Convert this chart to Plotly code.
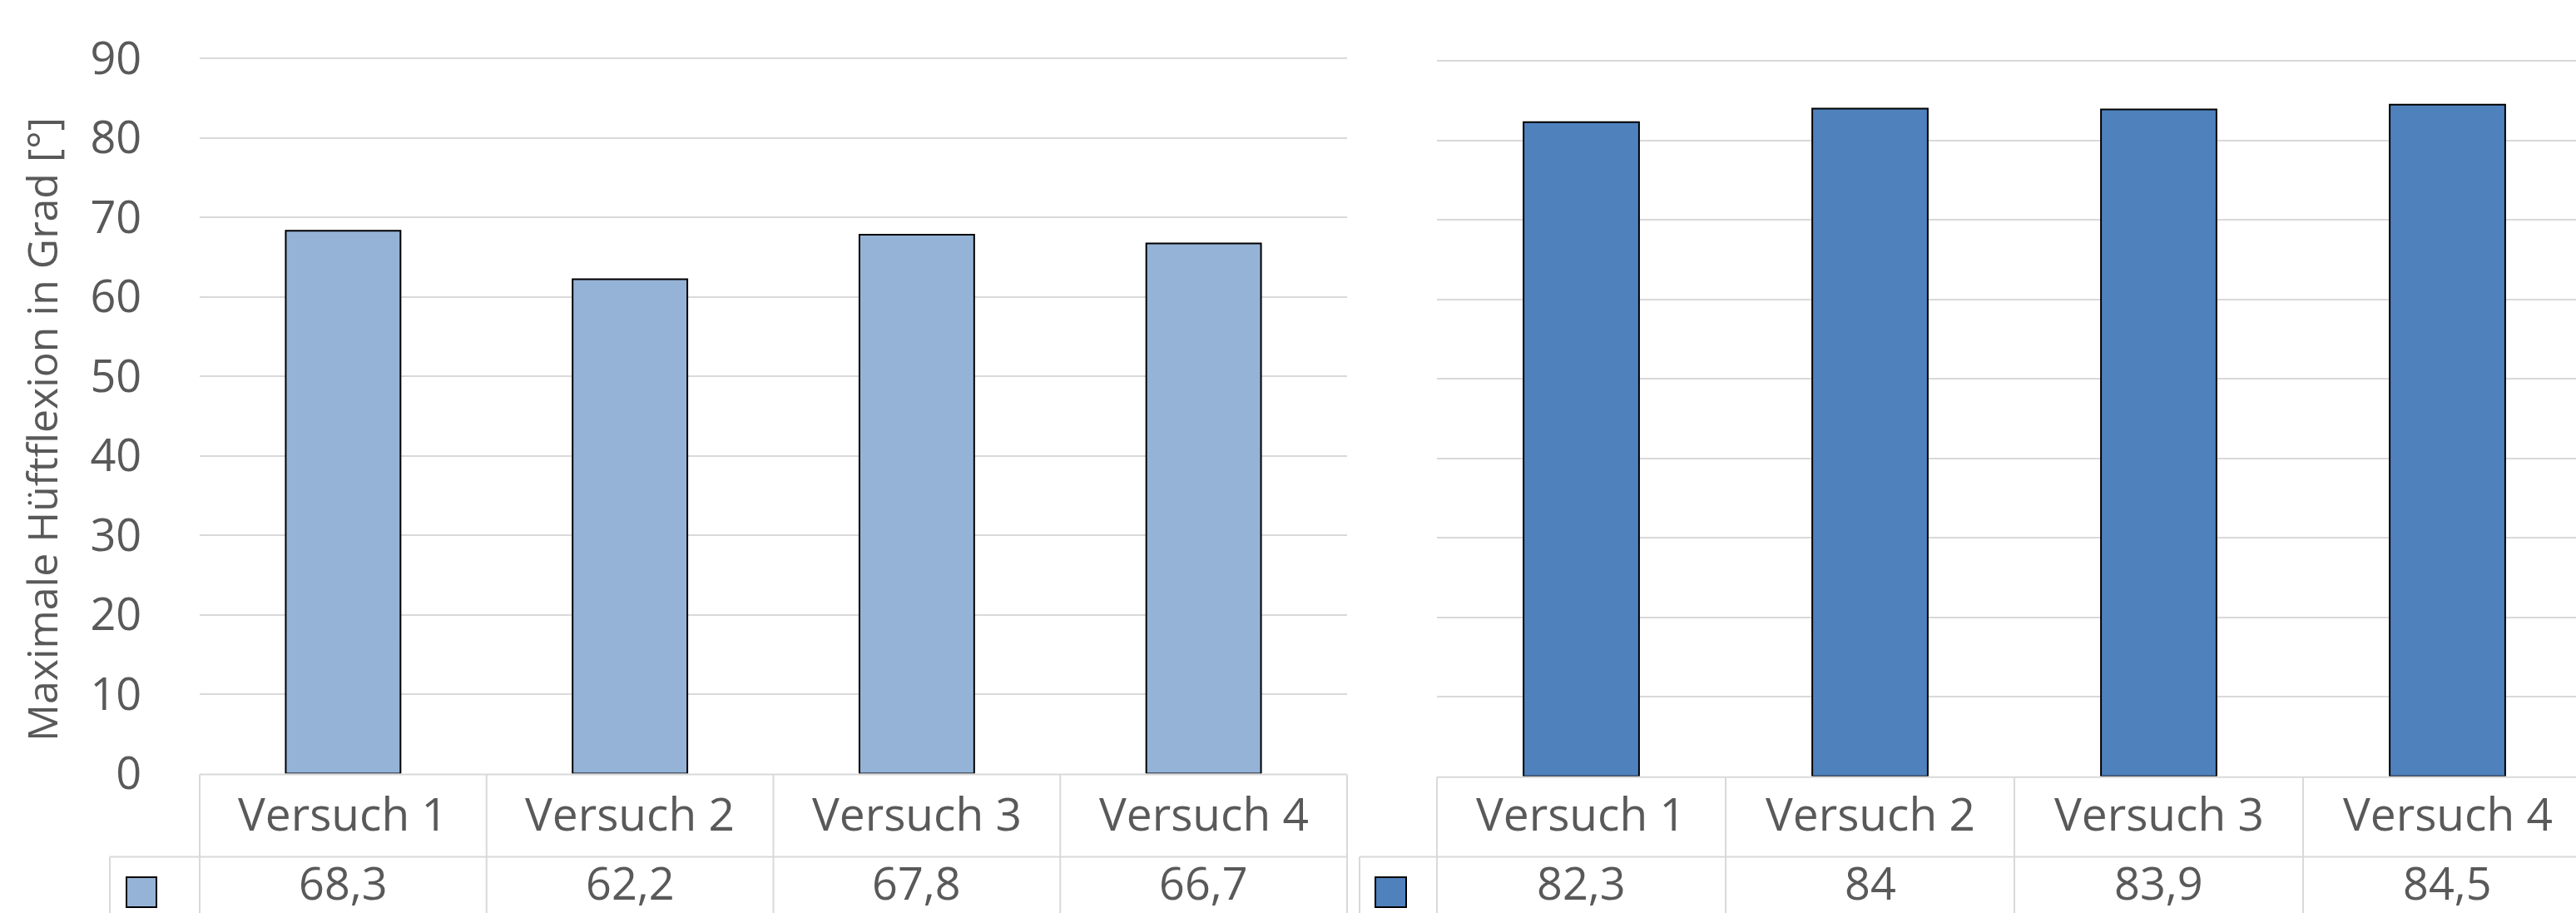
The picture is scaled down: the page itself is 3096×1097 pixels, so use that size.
import plotly.graph_objects as go

# --- data -------------------------------------------------------------
categories = ["Versuch 1", "Versuch 2", "Versuch 3", "Versuch 4"]
werte_links = [68.3, 62.2, 67.8, 66.7]
werte_rechts = [82.3, 84, 83.9, 84.5]
y_ticks = [0, 10, 20, 30, 40, 50, 60, 70, 80, 90]
y_titel = "Maximale Hüftflexion in Grad [°]"

# --- styling ----------------------------------------------------------
W, H = 3096, 1097
FONT = "Open Sans"
TEXT = "#595959"
GRID = "#D9D9D9"
FARBE_LINKS = "#95B3D7"
FARBE_RECHTS = "#4F81BD"


def fx(p):
    return p / W


def fy(p):
    return 1 - p / H


# panel geometry in pixels: plot area left/right edge, zero line, px per unit
left_panel = dict(x0=240, x1=1619, zero=929.5, unit=9.55, key_x=132, key_sq=(152, 188))
right_panel = dict(x0=1727, x1=1727 + 4 * 347, zero=932.7, unit=9.549, key_x=1634, key_sq=(1653, 1690))
Y_TOP = 92
ROW1_BOTTOM = 1029.5


def fmt(v):
    return f"{v:g}".replace(".", ",")


fig = go.Figure()

fig.add_trace(go.Bar(
    x=categories, y=werte_links, width=0.4,
    marker=dict(color=FARBE_LINKS, line=dict(color="#000000", width=2)),
    xaxis="x", yaxis="y", showlegend=False, hoverinfo="skip",
))
fig.add_trace(go.Bar(
    x=categories, y=werte_rechts, width=0.4,
    marker=dict(color=FARBE_RECHTS, line=dict(color="#000000", width=2)),
    xaxis="x2", yaxis="y2", showlegend=False, hoverinfo="skip",
))


def x_axis(panel):
    cell = (panel["x1"] - panel["x0"]) / 4
    right_edge = min(panel["x1"], W)
    rng = [-0.5, -0.5 + (right_edge - panel["x0"]) / cell]
    return dict(domain=[fx(panel["x0"]), fx(right_edge)], range=rng,
                showticklabels=False, showgrid=False, zeroline=False,
                showline=False, ticks="", fixedrange=True,
                automargin=False), cell


def y_axis(panel, labels):
    top_px = panel["zero"] - Y_TOP * panel["unit"]
    return dict(domain=[fy(panel["zero"]), fy(top_px)], range=[0, Y_TOP],
                tickvals=y_ticks, showticklabels=labels,
                showgrid=True, gridcolor=GRID, gridwidth=2,
                zeroline=False, showline=False,
                ticks="outside" if labels else "", ticklen=58,
                tickcolor="rgba(0,0,0,0)",
                tickfont=dict(family=FONT, size=54, color=TEXT),
                fixedrange=True, automargin=False)


xa1, cell1 = x_axis(left_panel)
xa2, cell2 = x_axis(right_panel)
fig.update_layout(
    xaxis=dict(xa1, anchor="y"),
    xaxis2=dict(xa2, anchor="y2"),
    yaxis=dict(y_axis(left_panel, True), anchor="x"),
    yaxis2=dict(y_axis(right_panel, False), anchor="x2"),
)

shapes = []
annotations = []


def line(x0, y0, x1, y1):
    shapes.append(dict(type="line", xref="paper", yref="paper",
                       x0=fx(x0), y0=fy(y0), x1=fx(x1), y1=fy(y1),
                       line=dict(color=GRID, width=2), layer="above"))


for panel, cell, xref, werte, farbe in [
    (left_panel, cell1, "x", werte_links, FARBE_LINKS),
    (right_panel, cell2, "x2", werte_rechts, FARBE_RECHTS),
]:
    x0 = panel["x0"]
    x_end = min(panel["x1"], W + 2)
    top = panel["zero"] + 1
    # data table grid below the plot
    line(x0, top, x_end, top)
    line(panel["key_x"], ROW1_BOTTOM, x_end, ROW1_BOTTOM)
    for i in range(len(categories) + 1):
        xb = x0 + i * cell
        if xb <= W + 1:
            line(xb, top, xb, H + 5)
    line(panel["key_x"], ROW1_BOTTOM, panel["key_x"], H + 5)
    # legend key in the value row
    k0, k1 = panel["key_sq"]
    shapes.append(dict(type="rect", xref="paper", yref="paper",
                       x0=fx(k0), x1=fx(k1), y0=fy(1054), y1=fy(1090),
                       fillcolor=farbe, line=dict(color="#000000", width=2),
                       layer="above"))
    # category labels and values
    for cat, v in zip(categories, werte):
        annotations.append(dict(x=cat, xref=xref, y=fy(976), yref="paper",
                                text=cat, showarrow=False, borderpad=0,
                                xanchor="center", yanchor="middle",
                                font=dict(family=FONT, size=55, color=TEXT)))
        annotations.append(dict(x=cat, xref=xref, y=fy(1060), yref="paper",
                                text=fmt(v), showarrow=False, borderpad=0,
                                xanchor="center", yanchor="middle",
                                font=dict(family=FONT, size=54, color=TEXT)))

annotations.append(dict(x=fx(50), y=fy(516), xref="paper", yref="paper",
                        text=y_titel, textangle=-90, showarrow=False,
                        xanchor="center", yanchor="middle",
                        font=dict(family=FONT, size=50, color=TEXT)))

fig.update_layout(
    width=W, height=H,
    margin=dict(l=0, r=0, t=0, b=0, pad=0, autoexpand=False),
    paper_bgcolor="white", plot_bgcolor="white",
    shapes=shapes, annotations=annotations,
    bargap=0.6,
)

fig.write_html("out.html", config={"displayModeBar": False})
